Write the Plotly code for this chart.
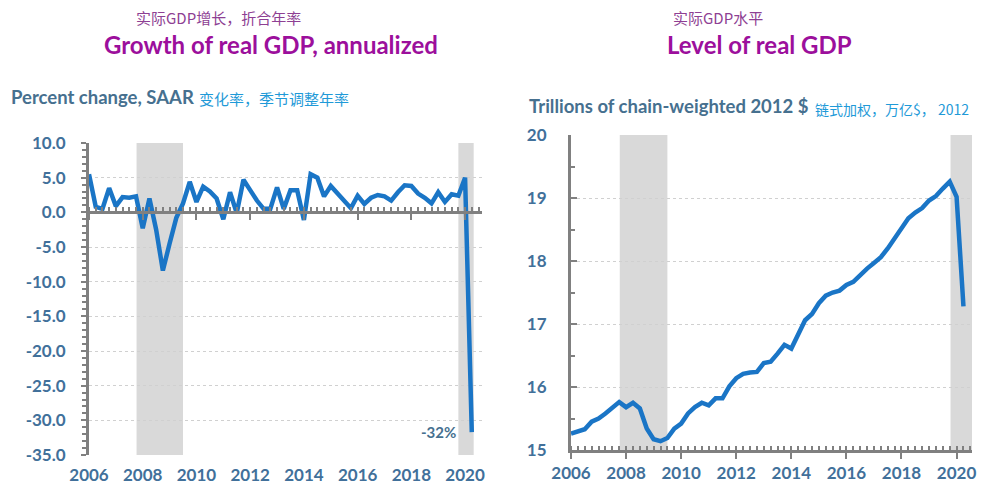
import plotly.graph_objects as go

# Quarterly observations, 2006Q1 - 2020Q2
start_year = 2006
n_quarters = 58
quarter_pos = [start_year + i / 4 for i in range(n_quarters)]

# Real GDP growth, % change SAAR
gdp_growth = [
    5.5, 0.8, 0.5, 3.5,
    0.9, 2.2, 2.1, 2.3,
    -2.3, 2.0, -2.5, -8.4,
    -4.5, -0.8, 1.3, 4.4,
    1.5, 3.7, 3.0, 2.0,
    -1.0, 2.9, -0.1, 4.7,
    3.2, 1.7, 0.5, 0.5,
    3.6, 0.5, 3.2, 3.2,
    -1.1, 5.5, 5.0, 2.3,
    3.8, 2.7, 1.5, 0.6,
    2.4, 1.2, 2.1, 2.5,
    2.3, 1.7, 2.9, 3.9,
    3.8, 2.7, 2.1, 1.3,
    2.9, 1.5, 2.6, 2.4,
    5.0, -31.7,
]

# Real GDP level, trillions of chained 2012 dollars
gdp_level = [
    15.26, 15.29, 15.33, 15.45,
    15.50, 15.58, 15.68, 15.76,
    15.68, 15.75, 15.66, 15.34,
    15.17, 15.14, 15.19, 15.34,
    15.42, 15.58, 15.68, 15.75,
    15.71, 15.82, 15.82, 16.01,
    16.14, 16.21, 16.23, 16.24,
    16.38, 16.40, 16.53, 16.67,
    16.61, 16.85, 17.06, 17.16,
    17.33, 17.45, 17.50, 17.53,
    17.62, 17.67, 17.78, 17.88,
    17.97, 18.06, 18.20, 18.36,
    18.54, 18.68, 18.77, 18.84,
    18.96, 19.03, 19.15, 19.26,
    19.02, 17.28,
]

# Recession bands (decimal years)
recessions_left = [(2007.77, 2009.5), (2019.75, 2020.32)]
recessions_right = [(2007.77, 2009.5), (2019.78, 2020.56)]

growth_ticks = [10, 5, 0, -5, -10, -15, -20, -25, -30, -35]
level_ticks = [15, 16, 17, 18, 19, 20]
year_ticks = list(range(2006, 2021, 2))

W, H = 990, 487
def px(x):
    return x / W
def py(y):
    return 1 - y / H

LINE = "#1a75c6"
AXIS = "#808080"
TICKTXT = "#41709a"
GRID = "#d0d0d0"
SHADE = "#d9d9d9"
LATIN = "Lato, 'Open Sans', sans-serif"
CJK = "'Noto Sans CJK SC', sans-serif"

fig = go.Figure()

fig.add_trace(go.Scatter(
    x=quarter_pos, y=gdp_growth, mode="lines",
    line=dict(color=LINE, width=4.5), xaxis="x", yaxis="y",
    showlegend=False, hoverinfo="x+y"))
# carrier for the zero-line axis of the growth panel
fig.add_trace(go.Scatter(
    x=[quarter_pos[0]], y=[None], mode="lines", xaxis="x3", yaxis="y",
    showlegend=False, hoverinfo="skip"))
fig.add_trace(go.Scatter(
    x=quarter_pos, y=gdp_level, mode="lines",
    line=dict(color=LINE, width=4.5), xaxis="x2", yaxis="y2",
    showlegend=False, hoverinfo="x+y"))

tickfont = dict(family=LATIN, size=17, color=TICKTXT, weight=700)

left_dom = [px(89), px(482)]
right_dom = [px(571), px(972)]
left_ydom = [py(455), py(143)]
right_ydom = [py(450), py(135)]
left_xrange = [2006, 2020.63]
right_xrange = [2006, 2020.56]
y_zero_paper = left_ydom[0] + (0 - (-35)) / 45 * (left_ydom[1] - left_ydom[0])

fig.update_layout(
    width=W, height=H,
    margin=dict(l=0, r=0, t=0, b=0, autoexpand=False),
    paper_bgcolor="white", plot_bgcolor="white",
    xaxis=dict(
        domain=left_dom, range=left_xrange, anchor="y", automargin=False,
        tickvals=year_ticks, ticktext=[str(v) for v in year_ticks],
        showline=False, ticks="", showgrid=False, zeroline=False,
        tickfont=tickfont, ticklabelstandoff=8,
    ),
    xaxis3=dict(
        overlaying="x", anchor="free", position=y_zero_paper, automargin=False,
        range=left_xrange, showticklabels=False, showgrid=False,
        zeroline=False, showline=True, linecolor=AXIS, linewidth=3,
        tickvals=year_ticks, ticks="outside", ticklen=6, tickwidth=2,
        tickcolor=AXIS,
        minor=dict(dtick=0.25, tick0=2006, ticks="inside", ticklen=4,
                   tickwidth=2, tickcolor=AXIS, showgrid=False),
    ),
    yaxis=dict(
        domain=left_ydom, range=[-35, 10], anchor="x", automargin=False,
        tickvals=growth_ticks, ticktext=[f"{v:.1f}" for v in growth_ticks],
        showgrid=True, gridcolor=GRID, griddash="dot", gridwidth=1,
        zeroline=False, showline=True, linecolor=AXIS, linewidth=3,
        ticks="outside", ticklen=5, tickwidth=2, tickcolor=AXIS,
        minor=dict(dtick=1, tick0=0, ticks="outside", ticklen=4,
                   tickwidth=2, tickcolor=AXIS, showgrid=False),
        tickfont=tickfont, ticklabelstandoff=12,
    ),
    xaxis2=dict(
        domain=right_dom, range=right_xrange, anchor="y2", automargin=False,
        tickvals=year_ticks, ticktext=[str(v) for v in year_ticks],
        showgrid=False, zeroline=False, showline=True,
        linecolor=AXIS, linewidth=3,
        ticks="outside", ticklen=6, tickwidth=2, tickcolor=AXIS,
        minor=dict(dtick=0.25, tick0=2006, ticks="inside", ticklen=4,
                   tickwidth=2, tickcolor=AXIS, showgrid=False),
        tickfont=tickfont, ticklabelstandoff=0,
    ),
    yaxis2=dict(
        domain=right_ydom, range=[15, 20], anchor="x2", automargin=False,
        tickvals=level_ticks, ticktext=[str(v) for v in level_ticks],
        showgrid=True, gridcolor=GRID, griddash="dot", gridwidth=1,
        zeroline=False, showline=True, linecolor=AXIS, linewidth=3,
        ticks="inside", ticklen=6, tickwidth=2, tickcolor=AXIS,
        minor=dict(dtick=0.5, tick0=15, ticks="inside", ticklen=4,
                   tickwidth=2, tickcolor=AXIS, showgrid=False),
        tickfont=tickfont, ticklabelstandoff=18,
    ),
)

for x0, x1 in recessions_left:
    fig.add_shape(type="rect", xref="x", yref="y", x0=x0, x1=x1,
                  y0=-35, y1=10, fillcolor=SHADE, line_width=0, layer="below")
for x0, x1 in recessions_right:
    fig.add_shape(type="rect", xref="x2", yref="y2", x0=x0, x1=x1,
                  y0=15, y1=20, fillcolor=SHADE, line_width=0, layer="below")

def label(text, x, y, size, color, family, anchor="left", weight=400):
    fig.add_annotation(text=text, x=px(x), y=py(y), xref="paper", yref="paper",
                       xanchor=anchor, yanchor="middle", showarrow=False,
                       font=dict(family=family, size=size, color=color,
                                 weight=weight))

PURPLE_CN = "#8e3f93"
MAGENTA = "#9c0f9c"
SUBTXT = "#46708f"
CYAN = "#1f9ad8"

# Growth panel titles
label("实际GDP增长，折合年率", 218, 18, 15, PURPLE_CN, CJK, "center")
label("Growth of real GDP, annualized", 271, 45, 24, MAGENTA, LATIN, "center", 700)
label("Percent change, SAAR", 9, 97, 18.5, SUBTXT, LATIN, "left", 700)
label("变化率，季节调整年率", 197, 99, 15, CYAN, CJK, "left")

# Level panel titles
label("实际GDP水平", 718, 18, 15, PURPLE_CN, CJK, "center")
label("Level of real GDP", 759, 45, 24, MAGENTA, LATIN, "center", 700)
label("Trillions of chain-weighted 2012 $", 527, 106, 18.5, SUBTXT, LATIN, "left", 700)
label("链式加权，万亿$， 2012", 813, 109, 14, CYAN, CJK, "left")

# Value callout on the final growth reading
last_growth = gdp_growth[-1]
fig.add_annotation(text=f"{last_growth:.0f}%", x=quarter_pos[-1], y=last_growth,
                   xref="x", yref="y", xanchor="right", yanchor="middle",
                   xshift=-14, yshift=0, showarrow=False,
                   font=dict(family=LATIN, size=15, color=SUBTXT, weight=700))

fig.write_html("out.html")
